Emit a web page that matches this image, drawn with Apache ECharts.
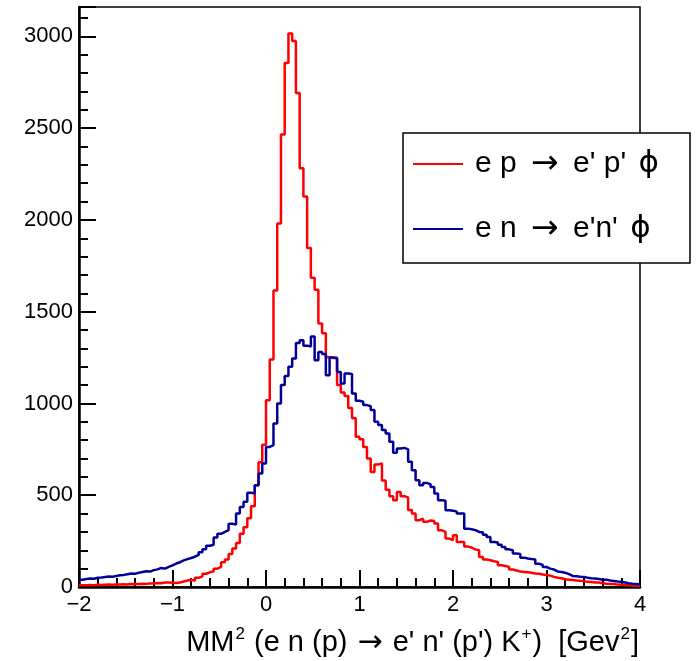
<!DOCTYPE html>
<html>
<head>
<meta charset="utf-8">
<script src="https://cdn.jsdelivr.net/npm/echarts@6/dist/echarts.min.js"></script>
<style>
  html, body { margin: 0; padding: 0; background: #fff; }
  #chart { width: 700px; height: 661px; }
</style>
</head>
<body>
<div id="chart"></div>
<script>
// histogram binning: 150 bins of 0.04 from -2 to 4
const xMin = -2
const binWidth = 0.04

// e p -> e' p' phi (red)
const redCounts = [
  10, 9, 11, 10, 12, 11, 12, 13, 12, 14,
  13, 15, 14, 16, 15, 17, 18, 17, 19, 20,
  22, 21, 24, 25, 23,
  22, 25, 30, 35, 38,
  36, 50, 58, 72, 80,
  85, 100, 110, 135, 150,
  180, 210, 240, 290, 325,
  375, 440, 555, 680, 775,
  1018, 1240, 1615, 1980, 2465,
  2855, 3015, 2975, 2692, 2281,
  2128, 1847, 1685, 1620, 1436,
  1383, 1252, 1248, 1250, 1100,
  1060, 1040, 975, 920, 818,
  805, 763, 700, 627, 668,
  673, 580, 530, 495, 473,
  518, 495, 488, 420, 400,
  364, 373, 355, 362, 360,
  346, 309, 300, 264, 255,
  282, 245, 245, 220, 215,
  205, 200, 164, 150, 146,
  140, 136, 118, 115, 109,
  95, 90, 84, 82, 80,
  78, 74, 72, 68, 65,
  62, 55, 50, 48, 42,
  40, 38, 36, 34, 32,
  28, 27, 25, 24, 20,
  18, 17, 16, 13, 12,
  10, 9, 8, 7, 6
]

// e n -> e'n' phi (blue)
const blueCounts = [
  40, 44, 46, 45, 50, 52, 55, 57, 56, 60,
  64, 66, 70, 74, 72, 78, 82, 86, 84, 92,
  96, 104, 100, 110, 118, 128, 135,
  145, 152, 158, 165, 175,
  190, 205, 225, 230, 270,
  290, 300, 310, 345, 340,
  400, 436, 464, 513, 510,
  555, 618, 673, 763, 773,
  891, 1000, 1100, 1150, 1200,
  1245, 1330, 1345, 1315, 1310,
  1365, 1236, 1281, 1270, 1154,
  1250, 1245, 1172, 1109, 1163,
  1160, 1054, 1015, 1009, 991,
  985, 964, 900, 882, 855,
  836, 791, 731, 755, 758,
  750, 682, 636, 582, 555,
  567, 560, 545, 509, 473,
  470, 418, 415, 412, 400,
  400, 318, 315, 310, 300,
  298, 285, 273, 245, 242,
  230, 218, 205, 200, 182,
  180, 160, 155, 152, 150,
  127, 120, 109, 100, 95,
  85, 82, 78, 70, 60,
  58, 56, 55, 51, 48,
  46, 44, 40, 40, 35,
  33, 30, 28, 25, 20,
  18, 17, 15
]

const seriesNames = ["e p \u2192 e' p' \u03d5", "e n \u2192 e'n' \u03d5"]
const seriesColors = ['#ff0000', '#000099']
const xTicks = [-2, -1, 0, 1, 2, 3, 4]
const yTicks = [0, 500, 1000, 1500, 2000, 2500, 3000]

const font = "'Liberation Sans', Arial, Helvetica, sans-serif"
const symFont = "'DejaVu Sans', sans-serif"

// left bin edges + closing point at the last edge, drawn as steps
function toSteps (counts) {
  let pts = counts.map((c, i) => [+(xMin + i * binWidth).toFixed(2), c])
  pts.push([+(xMin + counts.length * binWidth).toFixed(2), counts[counts.length - 1]])
  return pts
}

// wrap arrow and phi in a symbol-font rich token
function richify (s) {
  return s.split(/([\u2192\u03d5])/).filter(t => t !== '').map(t => {
    if (t === '\u2192') return '{r|\u2192}'
    if (t === '\u03d5') return '{p|\u03d5}'
    return '{t|' + t + '}'
  }).join('')
}

const chart = echarts.init(document.getElementById('chart'), null, { renderer: 'canvas' })

const option = {
  animation: false,
  backgroundColor: '#fff',
  title: {
    text: "{a|MM}{s|2}{a| (e n (p) }{r|\u2192}{a| e' n' (p') K}{s|+}{a|)  [Gev}{s|2}{a|]}",
    right: 61,
    top: 626,
    padding: 0,
    textStyle: {
      rich: {
        a: { fontSize: 29, fontFamily: font, fontWeight: 'normal', color: '#000', lineHeight: 34 },
        r: { fontSize: 30, fontFamily: symFont, fontWeight: 'normal', color: '#000', lineHeight: 34, padding: [0, 2, 0, 2] },
        s: { fontSize: 17, fontFamily: font, fontWeight: 'normal', color: '#000', lineHeight: 23, verticalAlign: 'top', padding: [0, 1, 0, 1] }
      }
    }
  },
  legend: {
    orient: 'vertical',
    left: 403,
    top: 133,
    padding: [13, 10, 16, 10],
    itemGap: 29,
    itemWidth: 50,
    itemHeight: 2,
    icon: 'rect',
    backgroundColor: '#fff',
    borderColor: '#000',
    borderWidth: 1.5,
    formatter: name => richify(name),
    textStyle: {
      fontSize: 30,
      fontFamily: font,
      color: '#000',
      lineHeight: 36,
      width: 205,
      padding: [0, 0, 0, 7],
      rich: {
        t: { fontSize: 30, fontFamily: font, color: '#000', lineHeight: 36 },
        r: { fontSize: 33, fontFamily: symFont, color: '#000', lineHeight: 36, padding: [0, 6, 0, 6] },
        p: { fontSize: 31, fontFamily: symFont, color: '#000', lineHeight: 36, padding: [0, 0, 0, 4] }
      }
    },
    data: seriesNames
  },
  grid: {
    left: 79,
    right: 60,
    top: 7,
    bottom: 74,
    show: true,
    borderColor: '#000',
    borderWidth: 1.5,
    containLabel: false
  },
  xAxis: {
    type: 'value',
    min: xTicks[0],
    max: xTicks[xTicks.length - 1],
    interval: 1,
    axisLine: { show: true, onZero: false, lineStyle: { color: '#000', width: 2.5 } },
    axisTick: { show: true, inside: true, length: 17, lineStyle: { color: '#000', width: 2 } },
    minorTick: { show: true, splitNumber: 5, length: 9, lineStyle: { color: '#000', width: 2 } },
    splitLine: { show: false },
    axisLabel: {
      margin: 7,
      fontSize: 22,
      fontFamily: font,
      color: '#000',
      formatter: v => String(v).replace('-', '\u2212')
    }
  },
  yAxis: {
    type: 'value',
    min: yTicks[0],
    max: 3160,
    interval: 500,
    axisLine: { show: true, onZero: false, lineStyle: { color: '#000', width: 2.5 } },
    axisTick: { show: true, inside: true, length: 17, lineStyle: { color: '#000', width: 2 } },
    minorTick: { show: true, splitNumber: 5, length: 9, lineStyle: { color: '#000', width: 2 } },
    splitLine: { show: false },
    axisLabel: {
      margin: 6,
      fontSize: 22,
      fontFamily: font,
      color: '#000',
      formatter: v => (yTicks.indexOf(v) >= 0 ? String(v) : '')
    }
  },
  series: [
    {
      name: seriesNames[0],
      type: 'line',
      step: 'end',
      showSymbol: false,
      color: seriesColors[0],
      lineStyle: { color: seriesColors[0], width: 2.5 },
      data: toSteps(redCounts)
    },
    {
      name: seriesNames[1],
      type: 'line',
      step: 'end',
      showSymbol: false,
      color: seriesColors[1],
      lineStyle: { color: seriesColors[1], width: 2.5 },
      data: toSteps(blueCounts)
    }
  ]
}

chart.setOption(option)
</script>
</body>
</html>
